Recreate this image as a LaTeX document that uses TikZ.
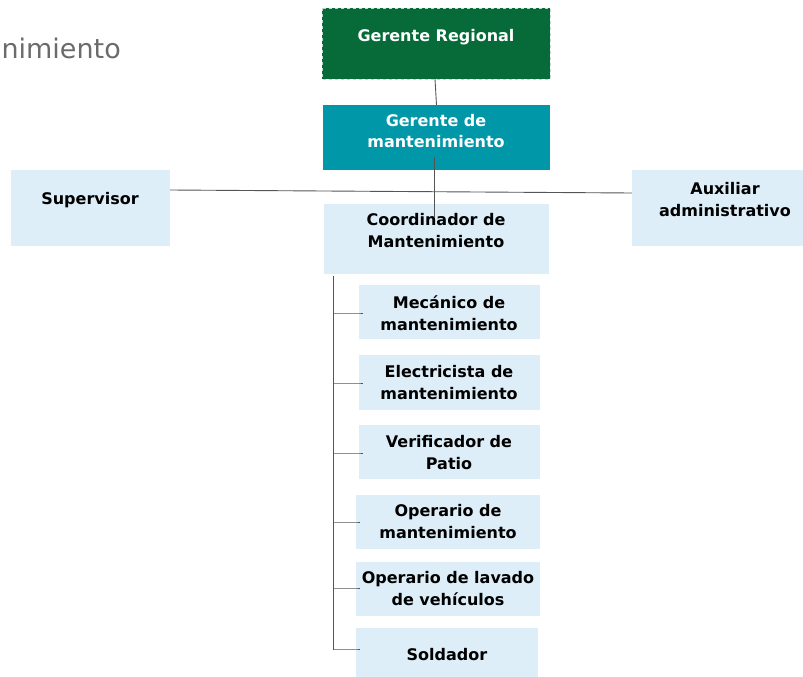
\documentclass[tikz,border=0pt]{standalone}
\usepackage{fontspec}
\setmainfont{DejaVu Sans}
\definecolor{dkgreen}{HTML}{066B38}
\definecolor{teal2}{HTML}{0098A8}
\definecolor{lblue}{HTML}{DEEEF8}
\definecolor{linec}{HTML}{555555}
\definecolor{titlec}{HTML}{6B6B6B}
\begin{document}
\begin{tikzpicture}[x=1pt,y=-1pt,
  box/.style={fill=lblue, draw=none, inner sep=0pt},
  lbl/.style={align=center, inner sep=0pt, text=black, font=\bfseries\fontsize{16}{22}\selectfont},
  conn/.style={draw=linec, line width=0.9pt}]
\useasboundingbox (0,0) rectangle (803,677);
% title fragment
\node[anchor=base east, text=titlec, font=\fontsize{27}{30}\selectfont, inner sep=0pt] (title) at (121,59) {nimiento};
% Gerente Regional
\path[fill=dkgreen, draw=white!75!dkgreen, dashed, line width=0.8pt] (322,8) rectangle (550,79);
\node[lbl, text=white] (greg) at (436,37) {Gerente Regional};
\coordinate (gregb) at (435,79);
% Gerente de mantenimiento
\node[fill=teal2, minimum width=227pt, minimum height=65pt, inner sep=0pt] (gman) at (436.5,137.5) {};
\node[lbl, text=white, font=\bfseries\fontsize{16}{21}\selectfont] (gmantext) at (436,131) {Gerente de\\mantenimiento};
% side boxes
\node[box, minimum width=159pt, minimum height=76pt] (sup) at (90.5,208) {};
\node[lbl] (suptext) at (90,200) {Supervisor};
\node[box, minimum width=171pt, minimum height=76pt] (aux) at (717.5,208) {};
\node[lbl] (auxtext) at (725,200) {Auxiliar\\administrativo};
% Coordinador
\node[box, minimum width=225pt, minimum height=70pt] (coord) at (436.5,239) {};
\node[lbl] (coordtext) at (436,231) {Coordinador de\\Mantenimiento};
% connectors top
\draw[conn] (gregb) -- (gman.north);
\coordinate (vtop) at (434,157);
\coordinate (vbot) at (434,218);
\draw[conn] (vtop) -- (vbot);
\draw[conn] (sup.east |- 0,190) -- (aux.west |- 0,193);
% subordinate boxes
\node[box, minimum width=181pt, minimum height=54pt] (b1) at (449.5,312) {};
\node[lbl] (t1) at (449,313) {Mecánico de\\mantenimiento};
\node[box, minimum width=181pt, minimum height=55pt] (b2) at (449.5,382.5) {};
\node[lbl] (t2) at (449,383) {Electricista de\\mantenimiento};
\node[box, minimum width=181pt, minimum height=54pt] (b3) at (449.5,452) {};
\node[lbl] (t3) at (449,453) {Verificador de\\Patio};
\node[box, minimum width=184pt, minimum height=54pt] (b4) at (448,522) {};
\node[lbl] (t4) at (448,522) {Operario de\\mantenimiento};
\node[box, minimum width=184pt, minimum height=54pt] (b5) at (448,589) {};
\node[lbl] (t5) at (448,589) {Operario de lavado\\de vehículos};
\node[box, minimum width=182pt, minimum height=49pt] (b6) at (447,652.5) {};
\node[lbl] (t6) at (447,655) {Soldador};
% tree
\coordinate (ttop) at (333,276);
\coordinate (tbot) at (333,650);
\draw[conn] (ttop) -- (tbot);
\foreach \b/\y in {b1/313,b2/383,b3/453,b4/522,b5/588,b6/649}{
  \draw[conn] (333,\y) -- (\b.west |- 0,\y) -- ++(4,0);
}
\end{tikzpicture}
\end{document}
